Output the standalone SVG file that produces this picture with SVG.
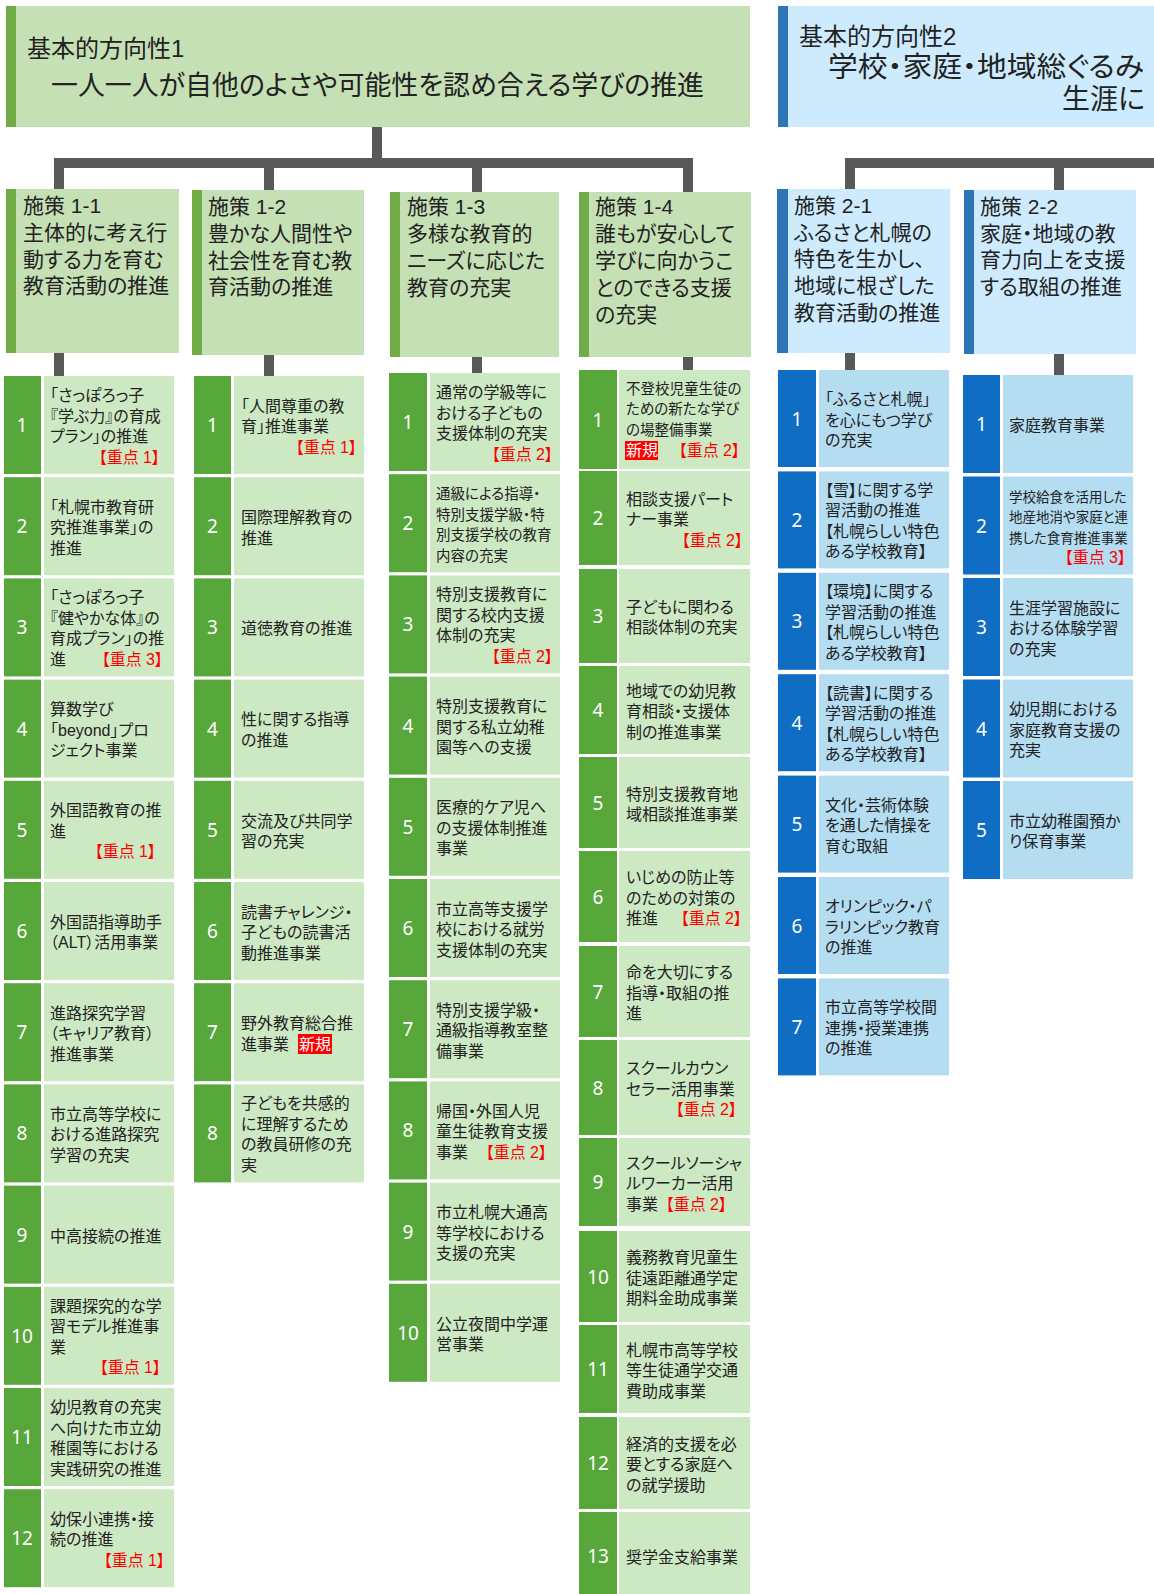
<svg xmlns="http://www.w3.org/2000/svg" width="1154" height="1594" viewBox="0 0 1154 1594">
<style>
.h1{fill:#C5E0B4}.b1{fill:#70AD47}.h2{fill:#CDEBFD}.b2{fill:#2E75B6}
.ng{fill:#58A73B}.tg{fill:#CDE9C3}.nb{fill:#0F6DC4}.tb{fill:#B4DDF2}
text{font-family:"Liberation Sans","Noto Sans CJK JP",sans-serif;fill:#222;font-feature-settings:"palt"}
.ht{font-size:24px}.hb{font-size:27px}
.st{font-size:21px}
.t{font-size:16px}
.s{font-size:14.5px}
.n{font-family:"Noto Sans",sans-serif;font-size:19px;fill:#fff;text-anchor:middle}
.r{fill:#FF0000;font-size:16px;text-anchor:end}
.w{fill:#fff;font-size:16px}
.conn{stroke:#595959;stroke-width:10;fill:none}
</style>
<g id="connectors" class="conn">
<path d="M377,127V163M54,163H693M59,163V189M269,163V190M477,163V192M688,163V192"/>
<path d="M845,163H1154M850,163V189M1059,163V190"/>
<path d="M59,353V376M269,355V376M477,357V373M688,357V370M850,353V370M1059,354V375"/>
</g>
<g id="dir1"><rect class="h1" x="6" y="6" width="744" height="121"/><rect class="b1" x="6" y="6" width="10" height="121"/>
<text><tspan class="ht" x="27" y="57">基本的方向性1</tspan><tspan class="hb" x="51" y="95" textLength="653" lengthAdjust="spacingAndGlyphs">一人一人が自他のよさや可能性を認め合える学びの推進</tspan></text></g>
<g id="dir2"><rect class="h2" x="778" y="6" width="376" height="121"/><rect class="b2" x="778" y="6" width="10" height="121"/>
<text><tspan class="ht" x="799" y="45">基本的方向性2</tspan><tspan x="828" y="77" style="font-size:28.5px" textLength="316" lengthAdjust="spacingAndGlyphs">学校・家庭・地域総ぐるみ</tspan><tspan x="1062" y="108.5" style="font-size:28px">生涯に</tspan></text></g>

<g id="p1-1"><rect class="h1" x="6" y="189" width="173" height="164"/><rect class="b1" x="6" y="189" width="10" height="164"/>
<text class="st"><tspan x="23" y="213">施策 1-1</tspan><tspan x="23" y="240">主体的に考え行</tspan><tspan x="23" y="267">動する力を育む</tspan><tspan x="23" y="293">教育活動の推進</tspan></text></g>
<g id="p1-2"><rect class="h1" x="192" y="190" width="172" height="165"/><rect class="b1" x="192" y="190" width="10" height="165"/>
<text class="st"><tspan x="208" y="214">施策 1-2</tspan><tspan x="208" y="241">豊かな人間性や</tspan><tspan x="208" y="268">社会性を育む教</tspan><tspan x="208" y="294">育活動の推進</tspan></text></g>
<g id="p1-3"><rect class="h1" x="390" y="192" width="169" height="165"/><rect class="b1" x="390" y="192" width="10" height="165"/>
<text class="st"><tspan x="407" y="214">施策 1-3</tspan><tspan x="407" y="241">多様な教育的</tspan><tspan x="407" y="268">ニーズに応じた</tspan><tspan x="407" y="295">教育の充実</tspan></text></g>
<g id="p1-4"><rect class="h1" x="579" y="192" width="172" height="165"/><rect class="b1" x="579" y="192" width="10" height="165"/>
<text class="st"><tspan x="595" y="214">施策 1-4</tspan><tspan x="595" y="241">誰もが安心して</tspan><tspan x="595" y="268">学びに向かうこ</tspan><tspan x="595" y="295">とのできる支援</tspan><tspan x="595" y="322">の充実</tspan></text></g>
<g id="p2-1"><rect class="h2" x="777" y="189" width="173" height="164"/><rect class="b2" x="777" y="189" width="11" height="164"/>
<text class="st"><tspan x="794" y="213">施策 2-1</tspan><tspan x="794" y="240">ふるさと札幌の</tspan><tspan x="794" y="266">特色を生かし、</tspan><tspan x="794" y="293">地域に根ざした</tspan><tspan x="794" y="320">教育活動の推進</tspan></text></g>
<g id="p2-2"><rect class="h2" x="964" y="190" width="172" height="164"/><rect class="b2" x="964" y="190" width="10" height="164"/>
<text class="st"><tspan x="980" y="214">施策 2-2</tspan><tspan x="980" y="241">家庭・地域の教</tspan><tspan x="980" y="267">育力向上を支援</tspan><tspan x="980" y="294">する取組の推進</tspan></text></g>

<!-- Column 1-1 -->
<g id="i1-1-1"><rect class="ng" x="4" y="376" width="37" height="98"/><rect class="tg" x="44" y="376" width="130" height="98"/><text class="n" x="22" y="432">1</text>
<text class="t"><tspan x="50" y="401">「さっぽろっ子</tspan><tspan x="50" y="421.5">『学ぶ力』の育成</tspan><tspan x="50" y="442">プラン」の推進</tspan><tspan class="r" x="160" y="462.5">【重点 1】</tspan></text></g>
<g id="i1-1-2"><rect class="ng" x="4" y="477.2" width="37" height="98"/><rect class="tg" x="44" y="477.2" width="130" height="98"/><text class="n" x="22" y="533">2</text>
<text class="t"><tspan x="50" y="512.7">「札幌市教育研</tspan><tspan x="50" y="533.2">究推進事業」の</tspan><tspan x="50" y="553.7">推進</tspan></text></g>
<g id="i1-1-3"><rect class="ng" x="4" y="578.4" width="37" height="98"/><rect class="tg" x="44" y="578.4" width="130" height="98"/><text class="n" x="22" y="634">3</text>
<text class="t"><tspan x="50" y="603.4">「さっぽろっ子</tspan><tspan x="50" y="623.9">『健やかな体』の</tspan><tspan x="50" y="644.4">育成プラン」の推</tspan><tspan x="50" y="664.9">進</tspan><tspan class="r" x="163" y="664.9">【重点 3】</tspan></text></g>
<g id="i1-1-4"><rect class="ng" x="4" y="679.6" width="37" height="98"/><rect class="tg" x="44" y="679.6" width="130" height="98"/><text class="n" x="22" y="735.6">4</text>
<text class="t"><tspan x="50" y="715.1">算数学び</tspan><tspan x="50" y="735.6">「beyond」プロ</tspan><tspan x="50" y="756.1">ジェクト事業</tspan></text></g>
<g id="i1-1-5"><rect class="ng" x="4" y="780.8" width="37" height="98"/><rect class="tg" x="44" y="780.8" width="130" height="98"/><text class="n" x="22" y="836.8">5</text>
<text class="t"><tspan x="50" y="816.3">外国語教育の推</tspan><tspan x="50" y="836.8">進</tspan><tspan class="r" x="156" y="857.3">【重点 1】</tspan></text></g>
<g id="i1-1-6"><rect class="ng" x="4" y="882" width="37" height="98"/><rect class="tg" x="44" y="882" width="130" height="98"/><text class="n" x="22" y="938">6</text>
<text class="t"><tspan x="50" y="928">外国語指導助手</tspan><tspan x="50" y="948">（ALT）活用事業</tspan></text></g>
<g id="i1-1-7"><rect class="ng" x="4" y="983.2" width="37" height="98"/><rect class="tg" x="44" y="983.2" width="130" height="98"/><text class="n" x="22" y="1039.2">7</text>
<text class="t"><tspan x="50" y="1018.7">進路探究学習</tspan><tspan x="50" y="1039.2">（キャリア教育）</tspan><tspan x="50" y="1059.7">推進事業</tspan></text></g>
<g id="i1-1-8"><rect class="ng" x="4" y="1084.4" width="37" height="98"/><rect class="tg" x="44" y="1084.4" width="130" height="98"/><text class="n" x="22" y="1140.4">8</text>
<text class="t"><tspan x="50" y="1119.9">市立高等学校に</tspan><tspan x="50" y="1140.4">おける進路探究</tspan><tspan x="50" y="1160.9">学習の充実</tspan></text></g>
<g id="i1-1-9"><rect class="ng" x="4" y="1185.6" width="37" height="98"/><rect class="tg" x="44" y="1185.6" width="130" height="98"/><text class="n" x="22" y="1241.6">9</text>
<text class="t" x="50" y="1241.6">中高接続の推進</text></g>
<g id="i1-1-10"><rect class="ng" x="4" y="1286.8" width="37" height="98"/><rect class="tg" x="44" y="1286.8" width="130" height="98"/><text class="n" x="22" y="1342.8">10</text>
<text class="t"><tspan x="50" y="1311.8">課題探究的な学</tspan><tspan x="50" y="1332.3">習モデル推進事</tspan><tspan x="50" y="1352.8">業</tspan><tspan class="r" x="161" y="1373.3">【重点 1】</tspan></text></g>
<g id="i1-1-11"><rect class="ng" x="4" y="1388" width="37" height="98"/><rect class="tg" x="44" y="1388" width="130" height="98"/><text class="n" x="22" y="1444">11</text>
<text class="t"><tspan x="50" y="1413">幼児教育の充実</tspan><tspan x="50" y="1433.5">へ向けた市立幼</tspan><tspan x="50" y="1454">稚園等における</tspan><tspan x="50" y="1474.5">実践研究の推進</tspan></text></g>
<g id="i1-1-12"><rect class="ng" x="4" y="1489.2" width="37" height="98"/><rect class="tg" x="44" y="1489.2" width="130" height="98"/><text class="n" x="22" y="1545.2">12</text>
<text class="t"><tspan x="50" y="1524.7">幼保小連携・接</tspan><tspan x="50" y="1545.2">続の推進</tspan><tspan class="r" x="165" y="1565.7">【重点 1】</tspan></text></g>

<!-- Column 1-2 -->
<g id="i1-2-1"><rect class="ng" x="194" y="376" width="37" height="98"/><rect class="tg" x="234" y="376" width="130" height="98"/><text class="n" x="212.5" y="432">1</text>
<text class="t"><tspan x="241" y="411.5">「人間尊重の教</tspan><tspan x="241" y="432">育」推進事業</tspan><tspan class="r" x="357" y="452.5">【重点 1】</tspan></text></g>
<g id="i1-2-2"><rect class="ng" x="194" y="477.2" width="37" height="98"/><rect class="tg" x="234" y="477.2" width="130" height="98"/><text class="n" x="212.5" y="533">2</text>
<text class="t"><tspan x="241" y="523">国際理解教育の</tspan><tspan x="241" y="543.5">推進</tspan></text></g>
<g id="i1-2-3"><rect class="ng" x="194" y="578.4" width="37" height="98"/><rect class="tg" x="234" y="578.4" width="130" height="98"/><text class="n" x="212.5" y="634">3</text>
<text class="t" x="241" y="634.4">道徳教育の推進</text></g>
<g id="i1-2-4"><rect class="ng" x="194" y="679.6" width="37" height="98"/><rect class="tg" x="234" y="679.6" width="130" height="98"/><text class="n" x="212.5" y="735.6">4</text>
<text class="t"><tspan x="241" y="725.4">性に関する指導</tspan><tspan x="241" y="745.9">の推進</tspan></text></g>
<g id="i1-2-5"><rect class="ng" x="194" y="780.8" width="37" height="98"/><rect class="tg" x="234" y="780.8" width="130" height="98"/><text class="n" x="212.5" y="836.8">5</text>
<text class="t"><tspan x="241" y="826.6">交流及び共同学</tspan><tspan x="241" y="847">習の充実</tspan></text></g>
<g id="i1-2-6"><rect class="ng" x="194" y="882" width="37" height="98"/><rect class="tg" x="234" y="882" width="130" height="98"/><text class="n" x="212.5" y="938">6</text>
<text class="t"><tspan x="241" y="917.5">読書チャレンジ・</tspan><tspan x="241" y="938">子どもの読書活</tspan><tspan x="241" y="958.5">動推進事業</tspan></text></g>
<g id="i1-2-7"><rect class="ng" x="194" y="983.2" width="37" height="98"/><rect class="tg" x="234" y="983.2" width="130" height="98"/><text class="n" x="212.5" y="1039.2">7</text>
<rect x="298" y="1034" width="34" height="20" fill="#FF0000"/>
<text class="t"><tspan x="241" y="1029">野外教育総合推</tspan><tspan x="241" y="1049.5">進事業</tspan><tspan class="w" x="299" y="1049.5">新規</tspan></text></g>
<g id="i1-2-8"><rect class="ng" x="194" y="1084.4" width="37" height="98"/><rect class="tg" x="234" y="1084.4" width="130" height="98"/><text class="n" x="212.5" y="1140.4">8</text>
<text class="t"><tspan x="241" y="1109.4">子どもを共感的</tspan><tspan x="241" y="1129.9">に理解するため</tspan><tspan x="241" y="1150.4">の教員研修の充</tspan><tspan x="241" y="1170.9">実</tspan></text></g>

<!-- Column 1-3 -->
<g id="i1-3-1"><rect class="ng" x="389" y="373" width="38" height="98"/><rect class="tg" x="430" y="373" width="130" height="98"/><text class="n" x="408" y="429">1</text>
<text class="t"><tspan x="436" y="398">通常の学級等に</tspan><tspan x="436" y="418.5">おける子どもの</tspan><tspan x="436" y="439">支援体制の充実</tspan><tspan class="r" x="553" y="459.5">【重点 2】</tspan></text></g>
<g id="i1-3-2"><rect class="ng" x="389" y="474.2" width="38" height="98"/><rect class="tg" x="430" y="474.2" width="130" height="98"/><text class="n" x="408" y="530.2">2</text>
<text class="s"><tspan x="436" y="499.2">通級による指導・</tspan><tspan x="436" y="519.7">特別支援学級・特</tspan><tspan x="436" y="540.2">別支援学校の教育</tspan><tspan x="436" y="560.7">内容の充実</tspan></text></g>
<g id="i1-3-3"><rect class="ng" x="389" y="575.4" width="38" height="98"/><rect class="tg" x="430" y="575.4" width="130" height="98"/><text class="n" x="408" y="631.4">3</text>
<text class="t"><tspan x="436" y="600.4">特別支援教育に</tspan><tspan x="436" y="620.9">関する校内支援</tspan><tspan x="436" y="641.4">体制の充実</tspan><tspan class="r" x="553" y="661.9">【重点 2】</tspan></text></g>
<g id="i1-3-4"><rect class="ng" x="389" y="676.6" width="38" height="98"/><rect class="tg" x="430" y="676.6" width="130" height="98"/><text class="n" x="408" y="732.6">4</text>
<text class="t"><tspan x="436" y="712.1">特別支援教育に</tspan><tspan x="436" y="732.6">関する私立幼稚</tspan><tspan x="436" y="753.1">園等への支援</tspan></text></g>
<g id="i1-3-5"><rect class="ng" x="389" y="777.8" width="38" height="98"/><rect class="tg" x="430" y="777.8" width="130" height="98"/><text class="n" x="408" y="833.8">5</text>
<text class="t"><tspan x="436" y="813.3">医療的ケア児へ</tspan><tspan x="436" y="833.8">の支援体制推進</tspan><tspan x="436" y="854.3">事業</tspan></text></g>
<g id="i1-3-6"><rect class="ng" x="389" y="879" width="38" height="98"/><rect class="tg" x="430" y="879" width="130" height="98"/><text class="n" x="408" y="935">6</text>
<text class="t"><tspan x="436" y="914.5">市立高等支援学</tspan><tspan x="436" y="935">校における就労</tspan><tspan x="436" y="955.5">支援体制の充実</tspan></text></g>
<g id="i1-3-7"><rect class="ng" x="389" y="980.2" width="38" height="98"/><rect class="tg" x="430" y="980.2" width="130" height="98"/><text class="n" x="408" y="1036.2">7</text>
<text class="t"><tspan x="436" y="1015.7">特別支援学級・</tspan><tspan x="436" y="1036.2">通級指導教室整</tspan><tspan x="436" y="1056.7">備事業</tspan></text></g>
<g id="i1-3-8"><rect class="ng" x="389" y="1081.4" width="38" height="98"/><rect class="tg" x="430" y="1081.4" width="130" height="98"/><text class="n" x="408" y="1137.4">8</text>
<text class="t"><tspan x="436" y="1116.9">帰国・外国人児</tspan><tspan x="436" y="1137.4">童生徒教育支援</tspan><tspan x="436" y="1157.9">事業</tspan><tspan class="r" x="547" y="1157.9">【重点 2】</tspan></text></g>
<g id="i1-3-9"><rect class="ng" x="389" y="1182.6" width="38" height="98"/><rect class="tg" x="430" y="1182.6" width="130" height="98"/><text class="n" x="408" y="1238.6">9</text>
<text class="t"><tspan x="436" y="1218.1">市立札幌大通高</tspan><tspan x="436" y="1238.6">等学校における</tspan><tspan x="436" y="1259.1">支援の充実</tspan></text></g>
<g id="i1-3-10"><rect class="ng" x="389" y="1283.8" width="38" height="98"/><rect class="tg" x="430" y="1283.8" width="130" height="98"/><text class="n" x="408" y="1339.8">10</text>
<text class="t"><tspan x="436" y="1329.6">公立夜間中学運</tspan><tspan x="436" y="1350">営事業</tspan></text></g>

<!-- Column 1-4 -->
<g id="i1-4-1"><rect class="ng" x="579" y="370" width="38" height="99"/><rect class="tg" x="619" y="370" width="131" height="99"/><text class="n" x="598" y="426.5">1</text>
<rect x="625" y="441" width="33" height="19" fill="#FF0000"/>
<text class="s"><tspan x="626" y="394">不登校児童生徒の</tspan><tspan x="626" y="414">ための新たな学び</tspan><tspan x="626" y="434.5">の場整備事業</tspan><tspan class="w" x="626" y="456">新規</tspan><tspan class="r" x="740" y="456">【重点 2】</tspan></text></g>
<g id="i1-4-2"><rect class="ng" x="579" y="471" width="38" height="94"/><rect class="tg" x="619" y="471" width="131" height="94"/><text class="n" x="598" y="525">2</text>
<text class="t"><tspan x="626" y="504.5">相談支援パート</tspan><tspan x="626" y="525">ナー事業</tspan><tspan class="r" x="743" y="545.5">【重点 2】</tspan></text></g>
<g id="i1-4-3"><rect class="ng" x="579" y="569" width="38" height="94"/><rect class="tg" x="619" y="569" width="131" height="94"/><text class="n" x="598" y="623">3</text>
<text class="t"><tspan x="626" y="613">子どもに関わる</tspan><tspan x="626" y="633">相談体制の充実</tspan></text></g>
<g id="i1-4-4"><rect class="ng" x="579" y="666" width="38" height="88"/><rect class="tg" x="619" y="666" width="131" height="88"/><text class="n" x="598" y="717">4</text>
<text class="t"><tspan x="626" y="696.5">地域での幼児教</tspan><tspan x="626" y="717">育相談・支援体</tspan><tspan x="626" y="737.5">制の推進事業</tspan></text></g>
<g id="i1-4-5"><rect class="ng" x="579" y="757" width="38" height="91"/><rect class="tg" x="619" y="757" width="131" height="91"/><text class="n" x="598" y="809.5">5</text>
<text class="t"><tspan x="626" y="799.5">特別支援教育地</tspan><tspan x="626" y="819.5">域相談推進事業</tspan></text></g>
<g id="i1-4-6"><rect class="ng" x="579" y="851" width="38" height="91"/><rect class="tg" x="619" y="851" width="131" height="91"/><text class="n" x="598" y="903.5">6</text>
<text class="t"><tspan x="626" y="883">いじめの防止等</tspan><tspan x="626" y="903.5">のための対策の</tspan><tspan x="626" y="924">推進</tspan><tspan class="r" x="742" y="924">【重点 2】</tspan></text></g>
<g id="i1-4-7"><rect class="ng" x="579" y="946" width="38" height="91"/><rect class="tg" x="619" y="946" width="131" height="91"/><text class="n" x="598" y="998.5">7</text>
<text class="t"><tspan x="626" y="978">命を大切にする</tspan><tspan x="626" y="998.5">指導・取組の推</tspan><tspan x="626" y="1019">進</tspan></text></g>
<g id="i1-4-8"><rect class="ng" x="579" y="1040" width="38" height="95"/><rect class="tg" x="619" y="1040" width="131" height="95"/><text class="n" x="598" y="1094.5">8</text>
<text class="t"><tspan x="626" y="1074">スクールカウン</tspan><tspan x="626" y="1094.5">セラー活用事業</tspan><tspan class="r" x="737" y="1115">【重点 2】</tspan></text></g>
<g id="i1-4-9"><rect class="ng" x="579" y="1138" width="38" height="88"/><rect class="tg" x="619" y="1138" width="131" height="88"/><text class="n" x="598" y="1189">9</text>
<text class="t"><tspan x="626" y="1168.5">スクールソーシャ</tspan><tspan x="626" y="1189">ルワーカー活用</tspan><tspan x="626" y="1209.5">事業</tspan><tspan class="r" x="727" y="1209.5">【重点 2】</tspan></text></g>
<g id="i1-4-10"><rect class="ng" x="579" y="1231" width="38" height="91"/><rect class="tg" x="619" y="1231" width="131" height="91"/><text class="n" x="598" y="1283.5">10</text>
<text class="t"><tspan x="626" y="1263">義務教育児童生</tspan><tspan x="626" y="1283.5">徒遠距離通学定</tspan><tspan x="626" y="1304">期料金助成事業</tspan></text></g>
<g id="i1-4-11"><rect class="ng" x="579" y="1325" width="38" height="88"/><rect class="tg" x="619" y="1325" width="131" height="88"/><text class="n" x="598" y="1376">11</text>
<text class="t"><tspan x="626" y="1355.5">札幌市高等学校</tspan><tspan x="626" y="1376">等生徒通学交通</tspan><tspan x="626" y="1396.5">費助成事業</tspan></text></g>
<g id="i1-4-12"><rect class="ng" x="579" y="1417" width="38" height="92"/><rect class="tg" x="619" y="1417" width="131" height="92"/><text class="n" x="598" y="1470">12</text>
<text class="t"><tspan x="626" y="1449.5">経済的支援を必</tspan><tspan x="626" y="1470">要とする家庭へ</tspan><tspan x="626" y="1490.5">の就学援助</tspan></text></g>
<g id="i1-4-13"><rect class="ng" x="579" y="1512" width="38" height="82"/><rect class="tg" x="619" y="1512" width="131" height="82"/><text class="n" x="598" y="1563">13</text>
<text class="t" x="626" y="1563">奨学金支給事業</text></g>

<!-- Column 2-1 -->
<g id="i2-1-1"><rect class="nb" x="778" y="370" width="38" height="97"/><rect class="tb" x="819" y="370" width="130" height="97"/><text class="n" x="797" y="425.5">1</text>
<text class="t"><tspan x="825" y="405">「ふるさと札幌」</tspan><tspan x="825" y="425.5">を心にもつ学び</tspan><tspan x="825" y="446">の充実</tspan></text></g>
<g id="i2-1-2"><rect class="nb" x="778" y="471.4" width="38" height="97"/><rect class="tb" x="819" y="471.4" width="130" height="97"/><text class="n" x="797" y="526.9">2</text>
<text class="t"><tspan x="825" y="495.9">【雪】に関する学</tspan><tspan x="825" y="516.4">習活動の推進</tspan><tspan x="825" y="536.9">【札幌らしい特色</tspan><tspan x="825" y="557.4">ある学校教育】</tspan></text></g>
<g id="i2-1-3"><rect class="nb" x="778" y="572.8" width="38" height="97"/><rect class="tb" x="819" y="572.8" width="130" height="97"/><text class="n" x="797" y="628.3">3</text>
<text class="t"><tspan x="825" y="597.3">【環境】に関する</tspan><tspan x="825" y="617.8">学習活動の推進</tspan><tspan x="825" y="638.3">【札幌らしい特色</tspan><tspan x="825" y="658.8">ある学校教育】</tspan></text></g>
<g id="i2-1-4"><rect class="nb" x="778" y="674.2" width="38" height="97"/><rect class="tb" x="819" y="674.2" width="130" height="97"/><text class="n" x="797" y="729.7">4</text>
<text class="t"><tspan x="825" y="698.7">【読書】に関する</tspan><tspan x="825" y="719.2">学習活動の推進</tspan><tspan x="825" y="739.7">【札幌らしい特色</tspan><tspan x="825" y="760.2">ある学校教育】</tspan></text></g>
<g id="i2-1-5"><rect class="nb" x="778" y="775.6" width="38" height="97"/><rect class="tb" x="819" y="775.6" width="130" height="97"/><text class="n" x="797" y="831.1">5</text>
<text class="t"><tspan x="825" y="810.6">文化・芸術体験</tspan><tspan x="825" y="831.1">を通した情操を</tspan><tspan x="825" y="851.6">育む取組</tspan></text></g>
<g id="i2-1-6"><rect class="nb" x="778" y="877" width="38" height="97"/><rect class="tb" x="819" y="877" width="130" height="97"/><text class="n" x="797" y="932.5">6</text>
<text class="t"><tspan x="825" y="912">オリンピック・パ</tspan><tspan x="825" y="932.5">ラリンピック教育</tspan><tspan x="825" y="953">の推進</tspan></text></g>
<g id="i2-1-7"><rect class="nb" x="778" y="978.4" width="38" height="97"/><rect class="tb" x="819" y="978.4" width="130" height="97"/><text class="n" x="797" y="1033.9">7</text>
<text class="t"><tspan x="825" y="1013.4">市立高等学校間</tspan><tspan x="825" y="1033.9">連携・授業連携</tspan><tspan x="825" y="1054.4">の推進</tspan></text></g>

<!-- Column 2-2 -->
<g id="i2-2-1"><rect class="nb" x="963" y="375" width="37" height="98"/><rect class="tb" x="1003" y="375" width="130" height="98"/><text class="n" x="981.5" y="431">1</text>
<text class="t" x="1009" y="431">家庭教育事業</text></g>
<g id="i2-2-2"><rect class="nb" x="963" y="476.5" width="37" height="98"/><rect class="tb" x="1003" y="476.5" width="130" height="98"/><text class="n" x="981.5" y="532.5">2</text>
<text style="font-size:13.5px"><tspan x="1009" y="501.5">学校給食を活用した</tspan><tspan x="1009" y="522">地産地消や家庭と連</tspan><tspan x="1009" y="542.5">携した食育推進事業</tspan><tspan class="r" x="1126" y="563">【重点 3】</tspan></text></g>
<g id="i2-2-3"><rect class="nb" x="963" y="578" width="37" height="98"/><rect class="tb" x="1003" y="578" width="130" height="98"/><text class="n" x="981.5" y="634">3</text>
<text class="t"><tspan x="1009" y="613.5">生涯学習施設に</tspan><tspan x="1009" y="634">おける体験学習</tspan><tspan x="1009" y="654.5">の充実</tspan></text></g>
<g id="i2-2-4"><rect class="nb" x="963" y="679.5" width="37" height="98"/><rect class="tb" x="1003" y="679.5" width="130" height="98"/><text class="n" x="981.5" y="735.5">4</text>
<text class="t"><tspan x="1009" y="715">幼児期における</tspan><tspan x="1009" y="735.5">家庭教育支援の</tspan><tspan x="1009" y="756">充実</tspan></text></g>
<g id="i2-2-5"><rect class="nb" x="963" y="781" width="37" height="98"/><rect class="tb" x="1003" y="781" width="130" height="98"/><text class="n" x="981.5" y="837">5</text>
<text class="t"><tspan x="1009" y="827">市立幼稚園預か</tspan><tspan x="1009" y="847">り保育事業</tspan></text></g>
</svg>
